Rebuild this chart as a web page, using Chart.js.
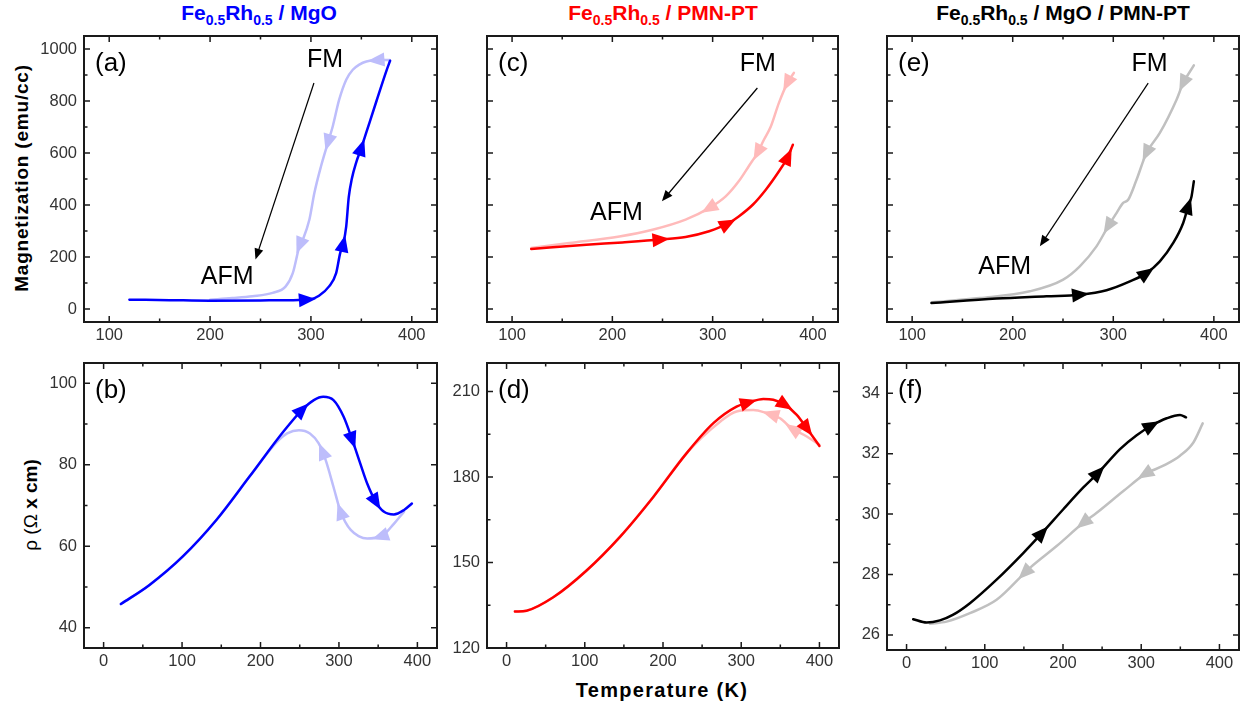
<!DOCTYPE html>
<html>
<head>
<meta charset="utf-8">
<script src="https://cdn.jsdelivr.net/npm/chart.js@4.4.1/dist/chart.umd.min.js"></script>
<style>
body { margin: 0; background: #fff; }
#page { position: relative; width: 1245px; height: 708px; overflow: hidden; font-family: "Liberation Sans", Arial, sans-serif; }
#page canvas { position: absolute; }
.title { position: absolute; top: 3px; font-size: 21px; font-weight: bold; line-height: 20px; white-space: nowrap; transform: translateX(-50%); }
.title sub { font-size: 14px; line-height: 0; vertical-align: -5px; }
.axlabel { position: absolute; white-space: nowrap; font-size: 19px; font-weight: bold; transform: translate(-50%, -50%); }
.axlabel.rot { transform: translate(-50%, -50%) rotate(-90deg); }
</style>
</head>
<body>
<div id="page">
    <div class="title" style="left:259px; color:#0000ff">Fe<sub>0.5</sub>Rh<sub>0.5</sub> / MgO</div>
    <div class="title" style="left:663px; color:#ff0000">Fe<sub>0.5</sub>Rh<sub>0.5</sub> / PMN-PT</div>
    <div class="title" style="left:1063px; color:#000">Fe<sub>0.5</sub>Rh<sub>0.5</sub> / MgO / PMN-PT</div>
    <div class="axlabel rot" style="left:22px; top:178px; letter-spacing:0.8px">Magnetization (emu/cc)</div>
    <div class="axlabel rot" style="left:31px; top:505px"><span style="font-weight:normal">ρ (Ω</span> x cm)</div>
    <div class="axlabel" style="left:662px; top:690px; font-size:20px; letter-spacing:1.3px">Temperature (K)</div>
    <canvas id="pa"></canvas>
    <canvas id="pc"></canvas>
    <canvas id="pe"></canvas>
    <canvas id="pb"></canvas>
    <canvas id="pd"></canvas>
    <canvas id="pf"></canvas>
</div>

<script>
    const FONT = '"Liberation Sans", Arial, sans-serif';
    const AXW = 60, AXH = 30, PADT = 20, PADR = 8;

    const blue = '#0000ff', lightBlue = '#bdbdfb';
    const red = '#ff0000', pink = '#ffbaba';
    const black = '#000000', gray = '#c0c0c0';

    // tick values
    const tempTicksTop = [100, 200, 300, 400];
    const tempMinorTop = [150, 250, 350];
    const tempTicksBottom = [0, 100, 200, 300, 400];
    const tempMinorBottom = [50, 150, 250, 350];
    const magTicks = [0, 200, 400, 600, 800, 1000];
    const magMinor = [100, 300, 500, 700, 900];
    const rhoMgoTicks = [40, 60, 80, 100];
    const rhoMgoMinor = [50, 70, 90];
    const rhoPmnTicks = [120, 150, 180, 210];
    const rhoPmnMinor = [135, 165, 195];
    const rhoBothTicks = [26, 28, 30, 32, 34];
    const rhoBothMinor = [27, 29, 31, 33];

    // (a) FeRh / MgO, magnetization
    const aHeatT = [120, 160, 200, 250, 288, 300, 308, 318, 325, 329, 332, 335, 337.5, 340.5, 345, 350, 355, 365, 375, 378.5];
    const aHeatM = [36, 34, 32, 33, 35, 38, 51, 87, 138, 215, 250, 318, 430, 500, 565, 620, 680, 800, 918, 955];
    const aHeatArrows = [296, 332, 350];
    const aCoolT = [378, 372, 365, 355, 348, 341.5, 335, 328, 321.6, 316.7, 310, 303.4, 298.5, 292, 288.6, 282, 275, 262, 242, 222, 200];
    const aCoolM = [958, 958, 957, 952, 940, 920, 882, 805, 702, 638, 549, 446, 344, 267, 241, 138, 87, 62, 49, 42, 36];
    const aCoolArrows = [365, 317, 289];

    // (b) FeRh / MgO, resistivity
    const bHeatT = [22, 58.5, 101, 144, 186, 229, 253, 268, 280, 293, 306, 317, 327, 336, 347, 357, 370, 383, 393];
    const bHeatR = [45.8, 50.5, 57.5, 66.5, 77.1, 88.1, 93.5, 95.9, 96.7, 95.9, 91.8, 86.1, 80.4, 75.4, 70.9, 68.5, 67.8, 68.9, 70.5];
    const bHeatArrows = [253, 317, 347];
    const bCoolT = [383, 370, 357, 346, 336, 325, 315, 308, 302, 293, 283, 274, 263, 249, 234, 221, 186, 144, 101, 58.5, 22];
    const bCoolR = [68.5, 65.5, 62.8, 62.1, 61.9, 62.5, 64, 66, 68.5, 74.6, 81.2, 85.3, 87.7, 88.5, 87.7, 85.6, 77.1, 66.5, 57.5, 50.5, 45.8];
    const bCoolArrows = [353, 302, 279];

    // (c) FeRh / PMN-PT, magnetization
    const cHeatT = [119, 174, 210, 248, 273, 296.5, 315, 326, 340, 353, 366, 374.5, 380];
    const cHeatM = [231, 247, 256, 267, 277, 299, 328, 356, 401, 459, 529, 581, 632];
    const cHeatArrows = [248, 315, 375];
    const cCoolT = [381, 374.5, 366, 358, 351, 344.6, 336, 326, 313, 296.5, 273, 240, 207, 157, 119];
    const cCoolM = [908, 869, 792, 702, 650, 600, 549, 491, 433, 388, 344, 305, 279, 254, 235];
    const cCoolArrows = [374.5, 345, 296.5];

    // (d) FeRh / PMN-PT, resistivity
    const dHeatT = [10.7, 25.6, 59.7, 102.3, 145, 187.6, 230, 264.4, 294, 309, 328.3, 341, 356, 371, 383.8, 400];
    const dHeatR = [132.8, 133.1, 137.8, 147.2, 159, 173, 188.3, 198.9, 204.7, 206.1, 207.4, 207.1, 205.3, 201.8, 197.1, 190.9];
    const dHeatArrows = [309, 356, 384];
    const dCoolT = [400, 383.8, 364.6, 349.6, 332.6, 315.5, 294, 273, 230, 187.6, 145, 102.3, 59.7, 25.6, 10.7];
    const dCoolR = [191.3, 194.2, 197.1, 200.6, 202.4, 203.5, 203, 199.4, 188.3, 173, 159, 147.2, 137.8, 133.1, 132.8];
    const dCoolArrows = [366, 338];

    // (e) FeRh / MgO / PMN-PT, magnetization
    const eHeatT = [119.2, 183.9, 233.6, 266.7, 293.3, 316.5, 333, 346.3, 359.6, 369.5, 374.5, 377.8, 380.1];
    const eHeatM = [23, 40, 49, 55, 72, 106, 138, 183, 254, 331, 395, 433, 491];
    const eHeatArrows = [267, 333, 374.5];
    const eCoolT = [380.1, 369.5, 362.9, 346.3, 333, 323.1, 314.8, 309.8, 303.2, 294.9, 283.3, 266.7, 250.2, 217, 167.3, 119.2];
    const eCoolM = [937, 869, 805, 677, 600, 497, 420, 408, 369, 318, 241, 164, 113, 68, 42, 26];
    const eCoolArrows = [369.5, 333, 295];

    // (f) FeRh / MgO / PMN-PT, resistivity
    const fHeatT = [8.5, 25.6, 42.6, 59.7, 81, 115.1, 149.2, 172.7, 200.4, 226, 245.2, 272.9, 294.2, 313.4, 332.6, 349.6, 357.3];
    const fHeatR = [26.52, 26.41, 26.48, 26.67, 27.05, 27.83, 28.71, 29.36, 30.16, 30.88, 31.37, 32.15, 32.61, 32.93, 33.17, 33.28, 33.2];
    const fHeatArrows = [173, 245, 313];
    const fCoolT = [378.6, 366.7, 349.6, 328.3, 304.9, 277.2, 243.1, 226, 191.9, 157.8, 115.1, 81, 51.2, 29.8];
    const fCoolR = [33.0, 32.37, 31.93, 31.6, 31.32, 30.76, 30.04, 29.71, 28.94, 28.22, 27.16, 26.72, 26.44, 26.37];
    const fCoolArrows = [305, 226, 151];

    const pairs = (xs, ys) => xs.map((x, i) => ({ x: x, y: ys[i] }));

    // cubic bezier helpers, used to sit the direction arrows on the drawn spline
    const bez = (p0, p1, p2, p3, t) => {
        const u = 1 - t;
        return u * u * u * p0 + 3 * u * u * t * p1 + 3 * u * t * t * p2 + t * t * t * p3;
    };
    const dbez = (p0, p1, p2, p3, t) => {
        const u = 1 - t;
        return 3 * u * u * (p1 - p0) + 6 * u * t * (p2 - p1) + 3 * t * t * (p3 - p2);
    };
    const locate = (pts, px) => {
        for (let i = 0; i < pts.length - 1; i++) {
            const a = pts[i], b = pts[i + 1];
            if (a.x === b.x || (px - a.x) * (px - b.x) > 0) continue;
            const ax = [a.x, a.cp2x ?? a.x, b.cp1x ?? b.x, b.x];
            const ay = [a.y, a.cp2y ?? a.y, b.cp1y ?? b.y, b.y];
            const inc = b.x > a.x;
            let lo = 0, hi = 1;
            for (let k = 0; k < 40; k++) {
                const m = (lo + hi) / 2;
                if ((bez(...ax, m) < px) === inc) lo = m; else hi = m;
            }
            const t = (lo + hi) / 2;
            return { x: bez(...ax, t), y: bez(...ay, t), dx: dbez(...ax, t), dy: dbez(...ay, t) };
        }
        return null;
    };

    const curveArrows = {
        id: 'curveArrows',
        afterDatasetDraw(chart, args) {
            const ds = chart.data.datasets[args.index];
            if (!ds.arrowsAt) return;
            args.meta.dataset.updateControlPoints(chart.chartArea, 'x');
            const ctx = chart.ctx;
            ctx.save();
            ctx.fillStyle = ds.borderColor;
            ds.arrowsAt.forEach(v => {
                const at = locate(args.meta.data, chart.scales.x.getPixelForValue(v));
                if (!at) return;
                ctx.save();
                ctx.translate(at.x, at.y);
                ctx.rotate(Math.atan2(at.dy, at.dx));
                ctx.beginPath();
                ctx.moveTo(9, 0);
                ctx.lineTo(-8, -7);
                ctx.lineTo(-8, 7);
                ctx.closePath();
                ctx.fill();
                ctx.restore();
            });
            ctx.restore();
        }
    };

    // box with inward ticks on all four sides, panel letter and FM/AFM notes
    const panelDecor = (p) => ({
        id: 'panelDecor',
        afterDraw(chart) {
            const { ctx, chartArea: a, scales: { x, y } } = chart;
            ctx.save();
            ctx.strokeStyle = '#1a1a1a';
            ctx.lineWidth = 1.5;
            const xMarks = (vals, len) => vals.forEach(v => {
                const px = x.getPixelForValue(v);
                ctx.beginPath();
                ctx.moveTo(px, a.bottom); ctx.lineTo(px, a.bottom - len);
                ctx.moveTo(px, a.top); ctx.lineTo(px, a.top + len);
                ctx.stroke();
            });
            const yMarks = (vals, len) => vals.forEach(v => {
                const py = y.getPixelForValue(v);
                ctx.beginPath();
                ctx.moveTo(a.left, py); ctx.lineTo(a.left + len, py);
                ctx.moveTo(a.right, py); ctx.lineTo(a.right - len, py);
                ctx.stroke();
            });
            xMarks(p.xt, 6); xMarks(p.xm, 3.5);
            yMarks(p.yt, 6); yMarks(p.ym, 3.5);
            ctx.lineWidth = 2;
            ctx.strokeRect(a.left, a.top, a.right - a.left, a.bottom - a.top);

            ctx.fillStyle = '#000';
            ctx.textBaseline = 'middle';
            ctx.textAlign = 'left';
            ctx.font = '26px ' + FONT;
            ctx.fillText(p.label, a.left + 11, a.top + 28);

            if (p.notes) {
                const n = p.notes;
                ctx.textAlign = 'center';
                ctx.font = '25px ' + FONT;
                ctx.fillText('FM', x.getPixelForValue(n.fm[0]), y.getPixelForValue(n.fm[1]));
                ctx.fillText('AFM', x.getPixelForValue(n.afm[0]), y.getPixelForValue(n.afm[1]));
                const x1 = x.getPixelForValue(n.arrow[0]), y1 = y.getPixelForValue(n.arrow[1]);
                const x2 = x.getPixelForValue(n.arrow[2]), y2 = y.getPixelForValue(n.arrow[3]);
                const ang = Math.atan2(y2 - y1, x2 - x1);
                ctx.strokeStyle = '#000';
                ctx.lineWidth = 1.2;
                ctx.beginPath();
                ctx.moveTo(x1, y1);
                ctx.lineTo(x2 - 8 * Math.cos(ang), y2 - 8 * Math.sin(ang));
                ctx.stroke();
                ctx.save();
                ctx.translate(x2, y2);
                ctx.rotate(ang);
                ctx.beginPath();
                ctx.moveTo(0, 0);
                ctx.lineTo(-11, -4.5);
                ctx.lineTo(-11, 4.5);
                ctx.closePath();
                ctx.fill();
                ctx.restore();
            }
            ctx.restore();
        }
    });

    const makePanel = (p) => {
        const [l, t, r, b] = p.area;
        const cv = document.getElementById(p.id);
        const w = r - l + AXW + PADR, h = b - t + PADT + AXH;
        cv.width = w; cv.height = h;
        cv.style.width = w + 'px'; cv.style.height = h + 'px';
        cv.style.left = (l - AXW) + 'px'; cv.style.top = (t - PADT) + 'px';
        const tickStyle = { color: '#333', font: { family: FONT, size: 16.5 }, callback: v => String(v) };
        return new Chart(cv, {
            type: 'line',
            data: {
                datasets: [
                    { data: pairs(p.heat[0], p.heat[1]), arrowsAt: p.heat[2], borderColor: p.dark },
                    { data: pairs(p.cool[0], p.cool[1]), arrowsAt: p.cool[2], borderColor: p.light }
                ]
            },
            options: {
                animation: false,
                responsive: false,
                devicePixelRatio: 1,
                layout: { padding: { left: 0, top: PADT, right: PADR, bottom: 0 } },
                plugins: { legend: { display: false }, tooltip: { enabled: false } },
                elements: {
                    point: { radius: 0 },
                    line: { borderWidth: 2.5, cubicInterpolationMode: 'monotone', borderCapStyle: 'round' }
                },
                scales: {
                    x: {
                        type: 'linear', min: p.xr[0], max: p.xr[1],
                        grid: { display: false, drawTicks: false },
                        border: { display: false },
                        ticks: Object.assign({ padding: 4, maxRotation: 0, autoSkip: false }, tickStyle),
                        afterBuildTicks: s => { s.ticks = p.xt.map(v => ({ value: v })); },
                        afterFit: s => { s.height = AXH; }
                    },
                    y: {
                        type: 'linear', min: p.yr[0], max: p.yr[1],
                        grid: { display: false, drawTicks: false },
                        border: { display: false },
                        ticks: Object.assign({ display: p.showY, padding: 7, autoSkip: false }, tickStyle),
                        afterBuildTicks: s => { s.ticks = p.yt.map(v => ({ value: v })); },
                        afterFit: s => { s.width = AXW; }
                    }
                }
            },
            plugins: [curveArrows, panelDecor(p)]
        });
    };

    makePanel({
        id: 'pa', area: [84, 36, 437, 322], xr: [75, 425], yr: [-50, 1050],
        xt: tempTicksTop, xm: tempMinorTop, yt: magTicks, ym: magMinor, showY: true, label: '(a)',
        heat: [aHeatT, aHeatM, aHeatArrows], cool: [aCoolT, aCoolM, aCoolArrows], dark: blue, light: lightBlue,
        notes: { fm: [314, 956], afm: [217, 122], arrow: [303, 869, 245, 190] }
    });
    makePanel({
        id: 'pc', area: [487, 36, 838, 322], xr: [75, 425], yr: [-50, 1050],
        xt: tempTicksTop, xm: tempMinorTop, yt: magTicks, ym: magMinor, showY: false, label: '(c)',
        heat: [cHeatT, cHeatM, cHeatArrows], cool: [cCoolT, cCoolM, cCoolArrows], dark: red, light: pink,
        notes: { fm: [345, 942], afm: [204, 370], arrow: [344.6, 850, 249.4, 414] }
    });
    makePanel({
        id: 'pe', area: [887, 36, 1239, 322], xr: [75, 425], yr: [-50, 1050],
        xt: tempTicksTop, xm: tempMinorTop, yt: magTicks, ym: magMinor, showY: false, label: '(e)',
        heat: [eHeatT, eHeatM, eHeatArrows], cool: [eCoolT, eCoolM, eCoolArrows], dark: black, light: gray,
        notes: { fm: [336, 942], afm: [192, 160], arrow: [334.7, 869, 227, 241] }
    });
    makePanel({
        id: 'pb', area: [84, 363, 437, 648], xr: [-25, 425], yr: [35, 105],
        xt: tempTicksBottom, xm: tempMinorBottom, yt: rhoMgoTicks, ym: rhoMgoMinor, showY: true, label: '(b)',
        heat: [bHeatT, bHeatR, bHeatArrows], cool: [bCoolT, bCoolR, bCoolArrows], dark: blue, light: lightBlue
    });
    makePanel({
        id: 'pd', area: [487, 363, 839, 648], xr: [-25, 425], yr: [120, 220],
        xt: tempTicksBottom, xm: tempMinorBottom, yt: rhoPmnTicks, ym: rhoPmnMinor, showY: true, label: '(d)',
        heat: [dHeatT, dHeatR, dHeatArrows], cool: [dCoolT, dCoolR, dCoolArrows], dark: red, light: pink
    });
    makePanel({
        id: 'pf', area: [887, 363, 1239, 650], xr: [-25, 425], yr: [25.5, 35],
        xt: tempTicksBottom, xm: tempMinorBottom, yt: rhoBothTicks, ym: rhoBothMinor, showY: true, label: '(f)',
        heat: [fHeatT, fHeatR, fHeatArrows], cool: [fCoolT, fCoolR, fCoolArrows], dark: black, light: gray
    });
</script>
</body>
</html>
